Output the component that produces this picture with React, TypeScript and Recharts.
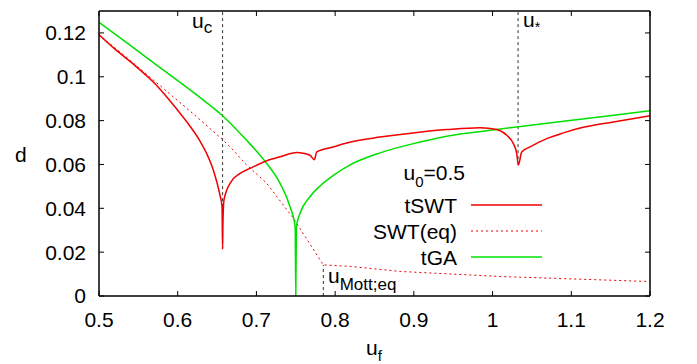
import { Line, LineChart, XAxis, YAxis } from "recharts";

type Pt = { u: number; d: number };

const xTicks = [0.5, 0.6, 0.7, 0.8, 0.9, 1, 1.1, 1.2];
const yTicks = [0, 0.02, 0.04, 0.06, 0.08, 0.1, 0.12];

// tSWT (solid red)
const tSWT: Pt[] = [
	{ u: 0.5, d: 0.1192 },
	{ u: 0.52, d: 0.1127 },
	{ u: 0.5457, d: 0.1051 },
	{ u: 0.5712, d: 0.0968 },
	{ u: 0.5966, d: 0.0862 },
	{ u: 0.6178, d: 0.0764 },
	{ u: 0.6283, d: 0.0707 },
	{ u: 0.6368, d: 0.065 },
	{ u: 0.6453, d: 0.0574 },
	{ u: 0.6496, d: 0.0521 },
	{ u: 0.6537, d: 0.046 },
	{ u: 0.6563, d: 0.0407 },
	{ u: 0.657, d: 0.0214 },
	{ u: 0.6574, d: 0.032 },
	{ u: 0.6588, d: 0.0438 },
	{ u: 0.6665, d: 0.0514 },
	{ u: 0.6792, d: 0.0559 },
	{ u: 0.6919, d: 0.0582 },
	{ u: 0.7131, d: 0.0617 },
	{ u: 0.73, d: 0.0635 },
	{ u: 0.7512, d: 0.0654 },
	{ u: 0.7554, d: 0.0653 },
	{ u: 0.768, d: 0.0642 },
	{ u: 0.7736, d: 0.0622 },
	{ u: 0.7766, d: 0.0657 },
	{ u: 0.7977, d: 0.068 },
	{ u: 0.8147, d: 0.0698 },
	{ u: 0.857, d: 0.0725 },
	{ u: 0.8994, d: 0.0744 },
	{ u: 0.9418, d: 0.0759 },
	{ u: 0.9841, d: 0.0768 },
	{ u: 1.0053, d: 0.0759 },
	{ u: 1.018, d: 0.0733 },
	{ u: 1.0264, d: 0.0695 },
	{ u: 1.0307, d: 0.065 },
	{ u: 1.0328, d: 0.0597 },
	{ u: 1.037, d: 0.0657 },
	{ u: 1.0476, d: 0.068 },
	{ u: 1.0689, d: 0.0718 },
	{ u: 1.09, d: 0.0744 },
	{ u: 1.1112, d: 0.0766 },
	{ u: 1.1535, d: 0.0794 },
	{ u: 1.2, d: 0.0822 },
];

// SWT(eq) (dotted red)
const swtEq: Pt[] = [
	{ u: 0.5, d: 0.1192 },
	{ u: 0.5372, d: 0.1082 },
	{ u: 0.5797, d: 0.0953 },
	{ u: 0.622, d: 0.0824 },
	{ u: 0.658, d: 0.071 },
	{ u: 0.6706, d: 0.0665 },
	{ u: 0.6855, d: 0.0605 },
	{ u: 0.7131, d: 0.0514 },
	{ u: 0.7469, d: 0.0355 },
	{ u: 0.785, d: 0.0142 },
	{ u: 0.819, d: 0.0135 },
	{ u: 0.8825, d: 0.0112 },
	{ u: 1.0095, d: 0.0089 },
	{ u: 1.2, d: 0.0066 },
];

// tGA (green)
const tGA: Pt[] = [
	{ u: 0.5, d: 0.1248 },
	{ u: 0.5372, d: 0.115 },
	{ u: 0.5797, d: 0.1036 },
	{ u: 0.622, d: 0.0923 },
	{ u: 0.658, d: 0.0819 },
	{ u: 0.6855, d: 0.0718 },
	{ u: 0.711, d: 0.0614 },
	{ u: 0.73, d: 0.0514 },
	{ u: 0.7427, d: 0.0407 },
	{ u: 0.7492, d: 0.0316 },
	{ u: 0.75, d: 0 },
	{ u: 0.7508, d: 0.0316 },
	{ u: 0.7554, d: 0.0377 },
	{ u: 0.768, d: 0.0453 },
	{ u: 0.7808, d: 0.0502 },
	{ u: 0.7977, d: 0.055 },
	{ u: 0.819, d: 0.0598 },
	{ u: 0.857, d: 0.0653 },
	{ u: 0.8994, d: 0.0695 },
	{ u: 0.9418, d: 0.0729 },
	{ u: 1.0, d: 0.0757 },
	{ u: 1.033, d: 0.0772 },
	{ u: 1.098, d: 0.08 },
	{ u: 1.154, d: 0.0824 },
	{ u: 1.2, d: 0.0845 },
];

// vertical markers
const ucMarker: Pt[] = [
	{ u: 0.657, d: 0.0214 },
	{ u: 0.657, d: 0.13 },
];
const uStarMarker: Pt[] = [
	{ u: 1.0324, d: 0.0597 },
	{ u: 1.0324, d: 0.13 },
];
const uMottMarker: Pt[] = [
	{ u: 0.785, d: 0 },
	{ u: 0.785, d: 0.0142 },
];

const RED = "#f00000";
const GREEN = "#00e000";
const FONT = "'Liberation Sans', Arial, Helvetica, sans-serif";

const axisLine = { stroke: "#000", strokeWidth: 1.5 };
const tickLine = { stroke: "#000", strokeWidth: 1 };
const tickStyle = { fontSize: 21, fill: "#000", fontFamily: FONT };

export default function App() {
	return (
		<div
			style={{
				position: "absolute",
				left: 0,
				top: 0,
				width: 697,
				height: 364,
				background: "#fff",
				fontFamily: FONT,
			}}
		>
			<LineChart
				width={697}
				height={364}
				margin={{ top: 10, right: 46, bottom: 0, left: 0 }}
			>
				<XAxis
					xAxisId="b"
					type="number"
					dataKey="u"
					domain={[0.5, 1.2]}
					ticks={xTicks}
					allowDataOverflow
					height={68}
					tickSize={-5}
					tickMargin={21}
					axisLine={axisLine}
					tickLine={tickLine}
					tick={tickStyle}
				/>
				<XAxis
					xAxisId="t"
					orientation="top"
					type="number"
					dataKey="u"
					domain={[0.5, 1.2]}
					ticks={xTicks}
					allowDataOverflow
					height={1}
					tickSize={-5}
					axisLine={axisLine}
					tickLine={tickLine}
					tickFormatter={() => ""}
				/>
				<YAxis
					yAxisId="l"
					type="number"
					dataKey="d"
					domain={[0, 0.13]}
					ticks={yTicks}
					allowDataOverflow
					width={99}
					tickSize={-5}
					tickMargin={18}
					axisLine={axisLine}
					tickLine={tickLine}
					tick={tickStyle}
				/>
				<YAxis
					yAxisId="r"
					orientation="right"
					type="number"
					dataKey="d"
					domain={[0, 0.13]}
					ticks={yTicks}
					allowDataOverflow
					width={1}
					tickSize={-5}
					axisLine={axisLine}
					tickLine={tickLine}
					tickFormatter={() => ""}
				/>
				<Line
					xAxisId="b"
					yAxisId="l"
					data={ucMarker}
					dataKey="d"
					stroke="#333"
					strokeWidth={1}
					strokeDasharray="3 3"
					dot={false}
					isAnimationActive={false}
				/>
				<Line
					xAxisId="b"
					yAxisId="l"
					data={uStarMarker}
					dataKey="d"
					stroke="#333"
					strokeWidth={1}
					strokeDasharray="3 3"
					dot={false}
					isAnimationActive={false}
				/>
				<Line
					xAxisId="b"
					yAxisId="l"
					data={uMottMarker}
					dataKey="d"
					stroke="#333"
					strokeWidth={1}
					strokeDasharray="3 3"
					dot={false}
					isAnimationActive={false}
				/>
				<Line
					xAxisId="b"
					yAxisId="l"
					data={swtEq}
					dataKey="d"
					type="linear"
					stroke={RED}
					strokeWidth={1}
					strokeDasharray="2 3"
					dot={false}
					isAnimationActive={false}
				/>
				<Line
					xAxisId="b"
					yAxisId="l"
					data={tGA}
					dataKey="d"
					type="monotoneX"
					stroke={GREEN}
					strokeWidth={1.5}
					dot={false}
					isAnimationActive={false}
				/>
				<Line
					xAxisId="b"
					yAxisId="l"
					data={tSWT}
					dataKey="d"
					type="monotoneX"
					stroke={RED}
					strokeWidth={1.5}
					dot={false}
					isAnimationActive={false}
				/>
			</LineChart>
			<svg
				width={697}
				height={364}
				style={{ position: "absolute", left: 0, top: 0, pointerEvents: "none" }}
				fontFamily={FONT}
				fill="#000"
			>
				{/* axis titles */}
				<text x={15} y={162} fontSize={21}>
					d
				</text>
				<text x={366} y={355} fontSize={21}>
					u
					<tspan fontSize={15} dy={6}>
						f
					</tspan>
				</text>
				{/* marker labels */}
				<text x={192} y={28} fontSize={21}>
					u
					<tspan fontSize={17} dy={5}>
						c
					</tspan>
				</text>
				<text x={523} y={27} fontSize={21}>
					u
					<tspan fontSize={14} dy={5}>
						*
					</tspan>
				</text>
				<text x={328} y={283} fontSize={21}>
					u
					<tspan fontSize={17} dy={7}>
						Mott;eq
					</tspan>
				</text>
				{/* legend */}
				<text x={465} y={180} fontSize={21} textAnchor="end">
					u
					<tspan fontSize={15} dy={7}>
						0
					</tspan>
					<tspan dy={-7}>=0.5</tspan>
				</text>
				<text x={457} y={212.5} fontSize={21} textAnchor="end">
					tSWT
				</text>
				<line x1={471} x2={542} y1={205} y2={205} stroke={RED} strokeWidth={1.5} />
				<text x={457} y={238.5} fontSize={21} textAnchor="end">
					SWT(eq)
				</text>
				<line
					x1={471}
					x2={542}
					y1={231}
					y2={231}
					stroke={RED}
					strokeWidth={1}
					strokeDasharray="2 3"
				/>
				<text x={457} y={264.5} fontSize={21} textAnchor="end">
					tGA
				</text>
				<line x1={471} x2={542} y1={257} y2={257} stroke={GREEN} strokeWidth={1.5} />
			</svg>
		</div>
	);
}
